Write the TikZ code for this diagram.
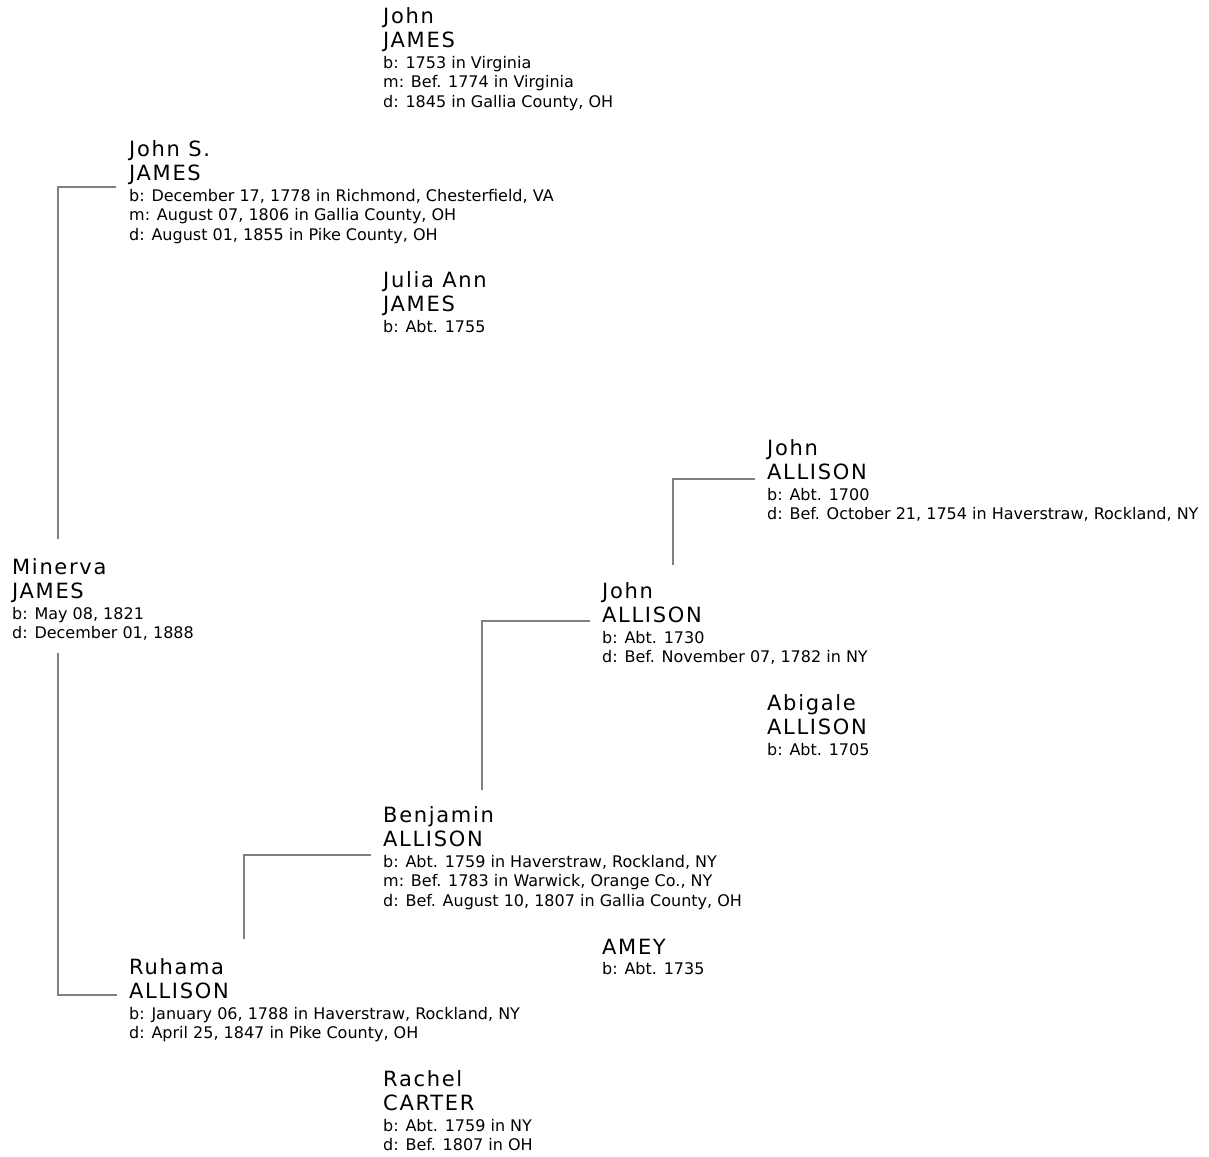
\documentclass[tikz,border=0pt]{standalone}
\usepackage{fontspec}
\setmainfont{DejaVu Sans}
\newfontfamily\namefam[LetterSpace=8]{DejaVu Sans}
\usepackage{tikz}
\usetikzlibrary{positioning,calc}
\definecolor{linkgray}{RGB}{128,128,128}
\newcommand{\namefont}{\namefam\fontsize{21}{24.5}\selectfont}
\newcommand{\infofont}{\normalfont\fontsize{16}{19.5}\selectfont}
\newcommand{\infostart}{\\[-4pt]\infofont}
\newcommand{\infoline}{\\[-5pt]\infofont}

\begin{document}
\begin{tikzpicture}[
    x=1pt, y=1pt,
    person/.style={anchor=base west, inner sep=0pt, align=left, font=\namefont},
    link/.style={draw=linkgray, line width=2pt}
]
\useasboundingbox (0,0) rectangle (1209,-1156);

% nodes sit on the baseline of their last line
\node[person] (jjames) at (383,-107) {John\\JAMES\infostart b: 1753 in Virginia\infoline m: Bef. 1774 in Virginia\infoline d: 1845 in Gallia County, OH};

\node[person] (johns) at (129,-240) {John S.\\JAMES\infostart b: December 17, 1778 in Richmond, Chesterfield, VA\infoline m: August 07, 1806 in Gallia County, OH\infoline d: August 01, 1855 in Pike County, OH};

\node[person] (julia) at (383,-332) {Julia Ann\\JAMES\infostart b: Abt. 1755};

\node[person] (johnatop) at (767,-519.5) {John\\ALLISON\infostart b: Abt. 1700\infoline d: Bef. October 21, 1754 in Haverstraw, Rockland, NY};

\node[person] (minerva) at (12,-638.5) {Minerva\\JAMES\infostart b: May 08, 1821\infoline d: December 01, 1888};

\node[person] (johna) at (602,-662.5) {John\\ALLISON\infostart b: Abt. 1730\infoline d: Bef. November 07, 1782 in NY};

\node[person] (abigale) at (767,-755) {Abigale\\ALLISON\infostart b: Abt. 1705};

\node[person] (benjamin) at (383,-906) {Benjamin\\ALLISON\infostart b: Abt. 1759 in Haverstraw, Rockland, NY\infoline m: Bef. 1783 in Warwick, Orange Co., NY\infoline d: Bef. August 10, 1807 in Gallia County, OH};

\node[person] (amey) at (602,-974.5) {AMEY\infostart b: Abt. 1735};

\node[person] (ruhama) at (129,-1038.5) {Ruhama\\ALLISON\infostart b: January 06, 1788 in Haverstraw, Rockland, NY\infoline d: April 25, 1847 in Pike County, OH};

\node[person] (rachel) at (383,-1150.5) {Rachel\\CARTER\infostart b: Abt. 1759 in NY\infoline d: Bef. 1807 in OH};

% father and mother links
\draw[link] ([shift={(46,99.5)}]minerva.base west) |- ([shift={(-13,53)}]johns.base west);
\draw[link] ([shift={(46,-14.5)}]minerva.base west) |- ([shift={(-12,43.5)}]ruhama.base west);
\draw[link] ([shift={(115,99.5)}]ruhama.base west) |- ([shift={(-12,51)}]benjamin.base west);
\draw[link] ([shift={(99,116)}]benjamin.base west) |- ([shift={(-12,41.5)}]johna.base west);
\draw[link] ([shift={(71,97.5)}]johna.base west) |- ([shift={(-12,40.5)}]johnatop.base west);

\end{tikzpicture}
\end{document}
